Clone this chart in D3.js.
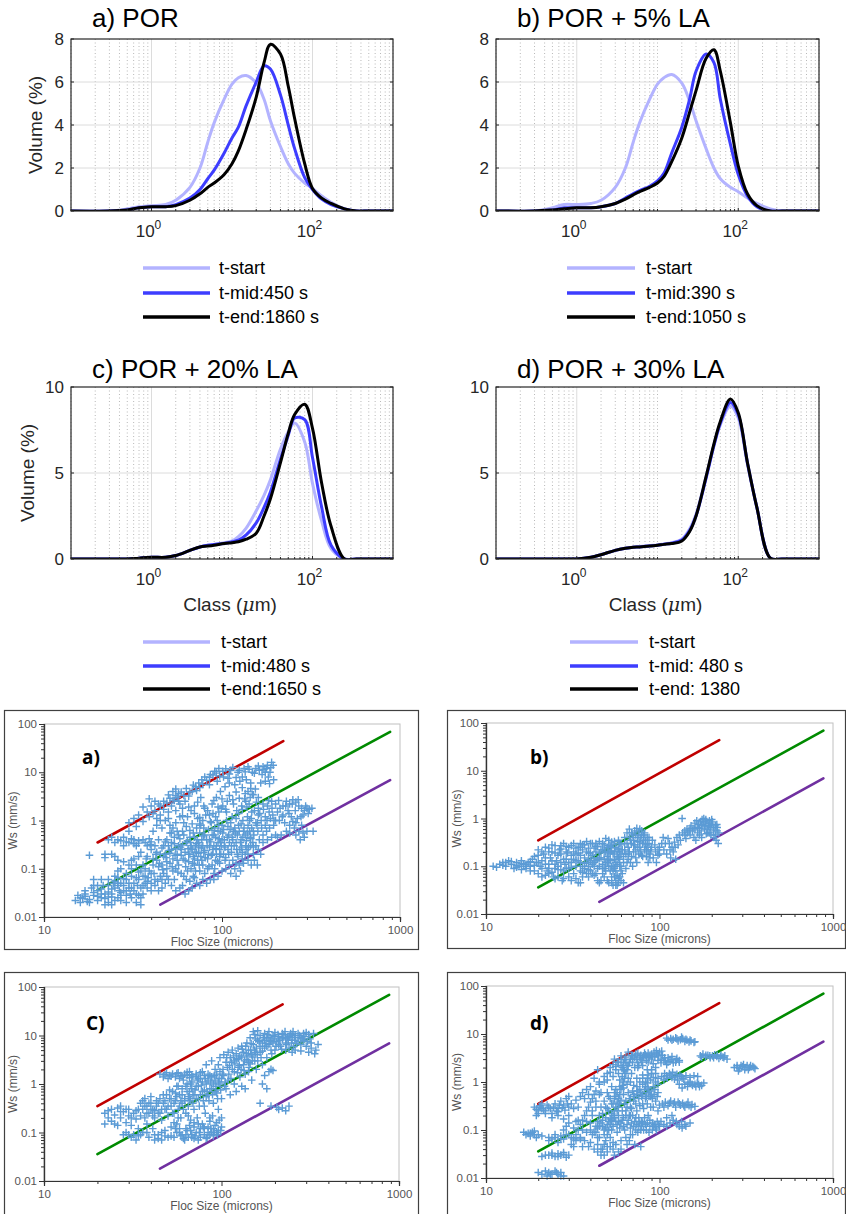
<!DOCTYPE html>
<html><head><meta charset="utf-8">
<script src="https://cdn.jsdelivr.net/npm/d3@7/dist/d3.min.js"></script>
<style>body{margin:0;background:#fff}svg{display:block}</style>
</head><body>
<svg id="fig" width="846" height="1214"></svg>
<script>
// ---------------- DATA ----------------
// Particle size classes (µm) for the volume distributions
const classes = [0.1,0.3,0.5,0.7,1,1.5,2,3,4,5,6,8,10,12,15,20,25,30,40,50,60,80,100,130,170,250,350,500,1000];

const psdTitles = ["a) POR", "b) POR + 5% LA", "c) POR + 20% LA", "d) POR + 30% LA"];
const seriesNames = ["t-start", "t-mid", "t-end"];
const legendA = ["t-start", "t-mid:450 s", "t-end:1860 s"];
const legendB = ["t-start", "t-mid:390 s", "t-end:1050 s"];
const legendC = ["t-start", "t-mid:480 s", "t-end:1650 s"];
const legendD = ["t-start", "t-mid: 480 s", "t-end: 1380"];

// Volume (%) per class
const aStart = [0,0,0.1,0.2,0.25,0.3,0.5,1.1,2.0,3.2,4.1,5.2,5.9,6.2,6.3,5.95,5.2,4.2,3.0,2.2,1.75,1.3,1.05,0.7,0.4,0.1,0,0,0];
const aMid   = [0,0,0.05,0.15,0.2,0.2,0.3,0.6,1.0,1.5,1.9,2.7,3.4,3.9,4.9,6.0,6.75,6.6,5.4,4.0,2.9,1.55,1.0,0.55,0.3,0.1,0,0,0];
const aEnd   = [0,0,0.05,0.15,0.2,0.2,0.25,0.5,0.8,1.1,1.3,1.7,2.2,2.8,3.8,5.3,6.9,7.75,7.3,5.8,4.3,2.2,1.05,0.6,0.35,0.1,0,0,0];

const bStart = [0,0,0.15,0.3,0.3,0.35,0.5,1.1,2.0,3.2,4.1,5.2,5.9,6.2,6.35,5.95,5.1,4.2,2.9,2.0,1.5,1.1,0.9,0.6,0.35,0.1,0,0,0];
const bMid   = [0,0,0.05,0.15,0.15,0.15,0.2,0.35,0.6,0.8,0.95,1.15,1.4,1.75,2.7,3.9,5.2,6.5,7.3,6.9,5.2,3.1,1.7,0.7,0.2,0,0,0,0];
const bEnd   = [0,0,0.05,0.1,0.15,0.15,0.2,0.35,0.55,0.75,0.9,1.1,1.3,1.6,2.3,3.4,4.6,5.6,7.1,7.5,6.5,4.1,2.1,0.8,0.25,0,0,0,0];

const cStart = [0,0,0,0.05,0.1,0.1,0.2,0.5,0.7,0.8,0.85,0.95,1.05,1.3,1.8,2.8,3.7,4.6,6.4,7.4,7.9,6.8,4.4,2.2,0.6,0,0,0,0];
const cMid   = [0,0,0,0.05,0.1,0.1,0.2,0.5,0.7,0.8,0.85,0.9,1.0,1.1,1.4,2.1,3.0,3.9,5.8,7.2,8.2,8.1,5.9,3.0,0.8,0,0,0,0];
const cEnd   = [0,0,0,0.05,0.1,0.1,0.2,0.5,0.7,0.75,0.8,0.9,0.95,1.0,1.15,1.5,2.5,3.5,5.6,7.3,8.4,9.0,7.6,4.4,1.9,0,0,0,0];

const dStart = [0,0,0,0,0,0.1,0.25,0.5,0.62,0.68,0.72,0.78,0.82,0.88,0.95,1.15,1.75,2.6,4.8,6.6,7.8,8.9,8.2,5.5,3.0,0.05,0,0,0];
const dMid   = [0,0,0,0,0,0.1,0.25,0.5,0.62,0.68,0.7,0.76,0.8,0.86,0.92,1.1,1.65,2.5,4.7,6.6,7.9,9.1,8.4,5.6,3.0,0.05,0,0,0];
const dEnd   = [0,0,0,0,0,0.1,0.25,0.5,0.62,0.68,0.7,0.75,0.8,0.85,0.9,1.05,1.6,2.5,4.8,6.7,8.0,9.3,8.5,5.6,3.0,0.05,0,0,0];

const yTicksTop = [0,2,4,6,8];
const yTicksBottom = [0,5,10];
const xTickLabelsTop = [1, 100];

// Settling velocity vs floc size
const scatterYTicks = [0.01,0.1,1,10,100];
const scatterXTicks = [10,100,1000];
const scatterLabels = ["a)", "b)", "C)", "d)"];
const lineUpper = [[20,0.35],[221,44]];
const lineMid   = [[20,0.036],[880,69]];
const lineLower = [[45,0.018],[880,6.9]];

const scatterA = [
[15,0.022],[16,0.025],[16.5,0.024],[17,0.03],[17.5,0.021],[15.5,0.028],
[18,0.02],[19,0.028],[20,0.035],[21,0.025],[22,0.018],[20,0.045],[19,0.06],[21,0.06],[18,0.19],[22,0.17],[20,0.022],[22,0.03],[18.5,0.04],[21.5,0.045],
[23,0.02],[24,0.03],[25,0.04],[26,0.025],[27,0.05],[23,0.06],[25,0.07],[24,0.018],[28,0.035],[26,0.09],[23,0.4],[25,0.35],[27,0.38],[28,0.3],[24,0.2],[26,0.15],[28,0.045],[27,0.022],[24.5,0.05],[26.5,0.035],
[29,0.02],[31,0.025],[33,0.02],[35,0.018],[30,0.04],[32,0.05],[34,0.06],[29,0.08],[31,0.1],[33,0.12],[35,0.09],[30,0.35],[32,0.4],[34,0.38],[33,0.3],[30,0.9],[32,1.1],[34,1.3],[31,0.15],[29,0.06],[35,0.04],[30.5,0.03],[33.5,0.045],
[36,0.03],[38,0.04],[40,0.05],[42,0.045],[44,0.035],[37,0.07],[39,0.09],[41,0.12],[43,0.15],[45,0.2],[36,0.12],[38,0.18],[40,0.25],[42,0.3],[44,0.4],[37,0.35],[39,0.42],[41,0.6],[43,0.8],[45,1.0],[38,1.5],[40,2.0],[42,2.5],[44,2.2],[36,1.9],[39,2.8],[41,1.4],[43,1.1],[45,0.07],[40,0.08],[37,0.05],[42,0.06],
[46,0.04],[48,0.05],[50,0.06],[52,0.045],[55,0.035],[58,0.04],[47,0.08],[49,0.1],[51,0.13],[53,0.16],[56,0.2],[59,0.25],[46,0.12],[48,0.2],[50,0.3],[52,0.35],[54,0.45],[57,0.5],[60,0.6],[47,0.3],[49,0.4],[51,0.55],[53,0.7],[55,0.9],[58,1.2],[46,0.7],[48,1.0],[50,1.5],[52,2.0],[54,2.6],[56,3.0],[58,2.2],[60,1.8],[47,2.5],[50,3.4],[53,4.0],[55,4.5],[57,3.6],[59,0.08],[55,0.1],[52,0.25],[56,0.15],[49,0.07],[54,0.06],[57,0.3],[51,0.8],
[62,0.03],[65,0.035],[68,0.04],[72,0.05],[75,0.045],[78,0.06],[61,0.07],[64,0.09],[67,0.1],[70,0.12],[73,0.15],[76,0.18],[79,0.22],[62,0.15],[65,0.2],[68,0.25],[71,0.3],[74,0.35],[77,0.4],[80,0.5],[63,0.35],[66,0.45],[69,0.55],[72,0.7],[75,0.85],[78,1.0],[61,0.9],[64,1.2],[67,1.6],[70,2.0],[73,2.4],[76,3.0],[79,2.0],[62,2.5],[65,3.2],[68,4.0],[71,5.0],[74,6.0],[77,7.0],[80,8.0],[66,0.2],[70,0.16],[74,0.28],[78,0.12],[63,0.06],[69,0.07],[75,0.09],[67,0.3],[72,0.22],
[82,0.05],[86,0.06],[90,0.08],[95,0.07],[100,0.09],[105,0.1],[83,0.1],[88,0.12],[92,0.15],[97,0.18],[102,0.2],[108,0.25],[84,0.2],[89,0.25],[93,0.3],[98,0.35],[103,0.4],[109,0.5],[85,0.4],[90,0.5],[95,0.6],[100,0.8],[106,1.0],[87,0.9],[92,1.2],[96,1.5],[101,2.0],[107,2.5],[83,1.6],[88,2.2],[93,3.0],[98,4.0],[104,5.0],[110,6.0],[86,9.0],[91,10.5],[96,12.0],[102,8.0],[108,7.5],[85,5.5],[94,6.5],[99,0.3],[104,0.15],[91,0.1],[97,0.13],
[112,0.08],[118,0.1],[125,0.12],[132,0.13],[140,0.15],[115,0.15],[122,0.2],[130,0.22],[138,0.25],[145,0.3],[113,0.3],[120,0.35],[128,0.4],[135,0.5],[143,0.6],[116,0.6],[124,0.8],[131,1.0],[139,1.2],[147,1.5],[114,1.2],[121,1.6],[129,2.0],[136,2.5],[144,3.0],[118,5.5],[126,6.5],[133,12.0],[140,13.0],[148,10.0],[123,10.0],[130,8.0],[137,7.0],[145,6.0],[112,11.0],[150,0.2],[146,0.12],[120,0.07],[127,0.09],
[152,0.15],[158,0.12],[165,0.2],[155,0.3],[162,0.4],[170,0.5],[178,0.6],[185,0.7],[195,0.8],[157,0.8],[166,1.0],[175,1.2],[184,1.5],[193,1.3],[160,1.8],[170,2.2],[180,2.0],[190,2.5],[200,2.2],[155,12.0],[162,11.0],[170,13.0],[178,12.0],[186,10.0],[194,14.0],[190,16.0],[165,6.0],[175,6.5],[185,5.8],[195,7.0],[160,3.0],[168,9.0],[182,8.0],
[205,1.5],[212,1.8],[220,2.0],[230,2.5],[240,2.2],[250,2.7],[260,2.4],[270,2.0],[280,1.8],[290,1.6],[300,1.8],[310,1.7],[325,0.6],[210,1.0],[225,0.9],[240,0.8],[255,0.7],[270,0.6],[285,0.55],[300,0.6],[215,0.5],[230,0.6],[260,0.5],[275,0.4],[205,0.45],[220,1.3],[245,1.2],[265,1.1],[285,1.3],[250,0.95],[235,1.6],
[41,0.16],[43,0.22],[44,0.11],[46,0.27],[47,0.18],[48,0.36],[49,0.14],[51,0.21],[52,0.55],[53,0.09],[54,0.33],[55,0.26],[56,0.6],[57,0.12],[58,0.42],[59,0.19],[60,0.31],[61,0.5],[62,0.22],[63,0.75],[64,0.38],[65,0.14],[66,0.62],[67,0.27],[68,0.85],[69,0.18],[70,0.45],[71,0.09],[72,0.33],[73,1.1],[74,0.21],[75,0.55],[76,0.8],[77,0.15],[78,0.3],[79,0.7],[80,0.24],[81,1.3],[82,0.4],[83,0.16],[84,0.65],[85,0.28],[86,0.95],[87,0.19],[88,0.5],[89,1.4],[90,0.3],[91,0.7],[92,0.45],[93,0.2],[94,1.0],[95,0.35],[96,0.8],[97,0.25],[98,0.6],[99,1.8],[100,0.4],[102,0.65],[104,0.28],[106,1.5],[108,0.75],[110,0.35],[112,0.9],[114,0.45],[116,2.2],[118,0.7],[120,1.1],[122,0.5],[124,1.4],[126,0.25],[128,0.85],[130,1.7],[132,0.6],[134,2.8],[136,0.3],[138,1.9],[140,0.8],[142,2.2],[144,0.45],[146,1.1],[148,3.5],[150,0.6],[152,1.6],[154,4.5],[156,2.4],[158,0.9],[160,1.3],
[30,0.6],[33,0.75],[36,0.95],[39,1.2],[42,1.6],[45,2.0],[47,1.7],[49,2.3],[51,2.9],[53,2.6],[55,3.3],[57,2.5],[59,3.9],[61,3.3],[63,4.6],[66,3.9],[69,5.4],[72,4.2],[75,4.8],[78,5.6],[82,6.8],[85,7.9],[89,8.7],[93,9.6],[97,8.4],[101,10.5],[105,11.8],[110,9.2],[115,12.5],[120,7.8],[125,11.0],[135,10.2],[142,11.5],[152,9.5],[160,13.5],[172,11.5],[180,14.0],[188,12.5],[175,10.0],
[16,0.02],[17,0.027],[18,0.023],[19,0.032],[20,0.027],[21,0.038],[22,0.024],[23,0.033],[24,0.026],[25,0.055],[26,0.045],[27,0.032],[28,0.062],[29,0.028],[30,0.05],[32,0.035],[34,0.028],[36,0.045],[38,0.055],[40,0.035],[31,0.07],[34,0.085],[37,0.1],[33,0.065],[26,0.065],[23,0.045],[19,0.045],[17,0.035],
[26,0.4],[29,0.36],[31,0.42],[34,0.34],[36,0.4],[38,0.3],[40,0.36],[28,0.45],[32,0.33],[24,0.45],[22,0.2],[25,0.18],
[60,0.045],[66,0.055],[70,0.065],[80,0.08],[90,0.06],[110,0.12],[120,0.13],[130,0.16],[140,0.2],[150,0.28],[160,0.25],[170,0.35],[180,0.4],[190,0.45],[200,0.5],
[200,1.0],[208,2.6],[218,1.2],[228,2.0],[238,1.4],[248,2.2],[258,1.6],[268,2.7],[278,1.2],[295,2.0],[305,1.4],[320,1.8],[240,0.55],[260,0.9],[280,0.8],[290,0.45],
[44.5,0.13],[46.5,0.095],[48.5,0.17],[50.5,0.24],[52.5,0.11],[54.5,0.19],[56.5,0.085],[58.5,0.28],[60.5,0.16],[62.5,0.11],[64.5,0.26],[66.5,0.35],[68.5,0.13],[70.5,0.22],[72.5,0.4],[74.5,0.12],[76.5,0.27],[78.5,0.48],[80.5,0.17],[82.5,0.3],[84.5,0.11],[86.5,0.36],[88.5,0.2],[90.5,0.62],[92.5,0.26],[94.5,0.14],[96.5,0.42],[98.5,0.2],[101,0.55],[103,0.3],[105,0.17],[107,0.45],[109,0.2],[111,0.65],[113,0.22],[115,0.4],[117,0.3],[119,0.55],[121,0.25],[123,0.18],[125,0.6],[127,0.35],[129,0.28],[131,0.45],[133,0.7],[135,0.2],[137,0.38],[139,0.55],[141,0.28],[143,1.0],[145,0.42],[147,0.7],[149,0.35],[151,0.5],[155,0.9],[159,0.6],[163,1.4],[167,0.7],[171,1.7],[175,0.8],[179,1.0],[183,2.6],[187,1.1],[191,1.8],[196,1.0],
[45,1.3],[50,1.1],[55,1.6],[60,1.25],[65,1.9],[70,1.4],[75,1.15],[80,1.8],[85,1.3],[90,2.6],[95,1.9],[100,2.8],[105,1.7],[110,3.3],[115,2.7],[120,3.9],[125,2.9],[130,4.8],[135,3.6],[140,4.0],[145,4.6],[150,3.4],
[35,0.22],[37.5,0.16],[39.5,0.32],[42.5,0.2],[34,0.18],[32,0.16],[30,0.12],[28,0.14],[27,0.1],[36,0.07],[38.5,0.065],[41.5,0.08],[43.5,0.055],[46,0.06],[21,0.03],[23,0.026],[25,0.022],[27,0.028],[29,0.035],[31,0.04],[33,0.03],[35,0.025],[24,0.038],[26,0.05]
];

const scatterB = [
[11,0.1],[12,0.11],[12.5,0.12],[13,0.1],[13.5,0.13],[14,0.11],[14.5,0.09],[15,0.12],[15.5,0.1],[16,0.13],[16.5,0.11],[17,0.09],[17.5,0.12],[18,0.1],[18.5,0.14],[19,0.08],[19.5,0.12],[20,0.22],[20,0.07],[19,0.16],[18,0.08],[16,0.085],[11.5,0.095],[13,0.12],[15,0.105],[17,0.11],
[20.5,0.1],[21,0.13],[21.5,0.18],[22,0.25],[22.5,0.08],[23,0.11],[23.5,0.15],[24,0.2],[24.5,0.06],[25,0.09],[25.5,0.13],[26,0.17],[26.5,0.22],[27,0.27],[27.5,0.05],[28,0.08],[28.5,0.11],[29,0.14],[29.5,0.19],[30,0.25],[21,0.06],[23,0.07],[26,0.06],[28,0.3],[24,0.28],[22,0.15],[25,0.19],[27,0.12],[29,0.09],[30,0.06],[21,0.2],[23,0.24],[25,0.27],[27,0.18],[29,0.26],
[31,0.05],[32,0.07],[33,0.1],[34,0.13],[35,0.17],[36,0.22],[37,0.28],[38,0.33],[39,0.06],[40,0.08],[41,0.11],[42,0.15],[43,0.2],[44,0.26],[45,0.33],[31,0.12],[33,0.18],[35,0.25],[37,0.09],[39,0.14],[41,0.3],[43,0.07],[45,0.1],[32,0.3],[34,0.045],[36,0.06],[38,0.12],[40,0.19],[42,0.24],[44,0.05],[32,0.2],[34,0.25],[36,0.1],[38,0.07],[40,0.3],[42,0.1],[44,0.14],
[46,0.05],[47,0.07],[48,0.09],[49,0.12],[50,0.16],[51,0.2],[52,0.26],[53,0.32],[54,0.04],[55,0.06],[56,0.08],[57,0.11],[58,0.15],[59,0.2],[60,0.28],[47,0.3],[49,0.38],[51,0.35],[53,0.1],[55,0.14],[57,0.04],[59,0.06],[48,0.2],[50,0.05],[52,0.13],[54,0.18],[56,0.25],[58,0.35],[60,0.1],[46,0.15],[48,0.14],[50,0.25],[52,0.08],[54,0.28],[56,0.12],[58,0.045],
[62,0.12],[64,0.18],[66,0.25],[68,0.35],[70,0.45],[72,0.55],[74,0.62],[76,0.5],[78,0.4],[80,0.3],[82,0.22],[84,0.16],[86,0.12],[88,0.18],[90,0.25],[63,0.4],[65,0.5],[67,0.6],[69,0.3],[71,0.2],[73,0.15],[75,0.25],[77,0.32],[79,0.55],[81,0.45],[83,0.35],[85,0.28],[87,0.4],[61,0.07],[64,0.09],[66,0.14],[70,0.1],[74,0.12],[78,0.2],[82,0.5],[86,0.2],
[92,0.15],[95,0.2],[98,0.17],[100,0.25],[103,0.3],[106,0.22],[110,0.18],[114,0.3],[118,0.25],[122,0.32],[126,0.4],[130,0.45],[105,0.4],[112,0.38],[120,0.2],[128,0.28],[96,0.12],[116,0.15],[135,1.0],[124,0.14],
[132,0.35],[136,0.5],[140,0.45],[144,0.6],[148,0.55],[152,0.7],[156,0.62],[160,0.8],[164,0.9],[168,0.75],[172,0.85],[176,0.95],[180,1.0],[184,0.88],[188,0.8],[192,0.7],[196,0.65],[200,0.75],[205,0.6],[210,0.7],[215,0.55],[220,0.5],[142,0.38],[150,0.45],[158,0.4],[166,0.5],[174,0.55],[182,0.6],[190,0.5],[198,0.45],[206,0.4],[212,0.35],[218,0.3],[162,0.35],[178,0.7],[194,0.9],[170,0.62],[186,0.48],[202,0.85],[214,0.75],
[12.5,0.105],[14,0.125],[15,0.095],[16,0.115],[17,0.1],[18,0.125],[19,0.105],[20,0.12],[21,0.09],[22,0.11],[23,0.09],[24,0.13],[25,0.11],[26,0.1],[27,0.085],[28,0.14],[29,0.2],[30,0.12],[31,0.17],[32,0.14],[33,0.24],[34,0.19],[35,0.12],[36,0.28],[37,0.15],[38,0.2],[39,0.1],[40,0.13],[41,0.17],[42,0.12],[43,0.26],[44,0.09],[45,0.15],[46,0.22],[47,0.11],[48,0.28],[49,0.08],[50,0.12],[51,0.1],[52,0.19],[53,0.06],[54,0.1],[55,0.2],[56,0.05],[57,0.16],[58,0.23],[59,0.1],[60,0.18],
[22,0.065],[24,0.075],[26,0.085],[28,0.055],[30,0.09],[33,0.055],[36,0.075],[39,0.085],[42,0.065],[45,0.045],[48,0.06],[51,0.045],[54,0.08],[57,0.065],[60,0.05],[25,0.055],[35,0.045],[20,0.17],[23,0.2],[27,0.23],[31,0.27],[35,0.3],[39,0.24],[43,0.3],[47,0.22],[51,0.27],[55,0.33],[59,0.3],
[63,0.22],[65,0.3],[67,0.4],[69,0.5],[71,0.35],[73,0.45],[75,0.4],[77,0.6],[79,0.45],[81,0.35],[83,0.28],[85,0.4],[87,0.3],[89,0.22],[91,0.35],[66,0.18],[72,0.28],[76,0.18],[80,0.16],[84,0.22],[88,0.15],[62,0.16],[68,0.12],[94,0.28],[100,0.18],[108,0.3],[115,0.22],[123,0.25],[98,0.22],
[145,0.5],[155,0.55],[165,0.65],[175,0.75],[185,0.7],[195,0.8],[205,0.55],[215,0.65],[160,0.6],[170,0.45],[180,0.85],[190,0.6],[200,0.95],[210,0.45],[140,0.55],[150,0.62],[195,0.5],[185,0.95],[175,0.4],
[31,0.095],[33,0.13],[35,0.08],[37,0.115],[39,0.19],[41,0.07],[43,0.13],[45,0.19],[47,0.09],[49,0.2],[51,0.14],[53,0.21],[55,0.09],[57,0.2],[59,0.14],[61,0.22],[63,0.3],[65,0.12],[67,0.2],[69,0.16],[71,0.28],[73,0.22],[75,0.33],[77,0.25],[79,0.17],[62,0.045],[58,0.055],[56,0.04],[53,0.045],[60,0.08]
];

const scatterC = [
[22,0.25],[22,0.15],[23,0.2],[24,0.3],[24,0.17],[25,0.23],[26,0.32],[26,0.14],[27,0.2],[27,0.35],[28,0.27],[28,0.09],[29,0.1],[29,0.16],[30,0.22],[30,0.3],[31,0.08],[31,0.14],[32,0.09],[32,0.25],[33,0.07],[33,0.19],[34,0.12],[34,0.3],[35,0.4],[35,0.09],
[36,0.45],[36,0.3],[37,0.2],[37,0.5],[38,0.35],[38,0.15],[39,0.25],[39,0.08],[40,0.4],[40,0.55],[41,0.3],[41,0.12],[42,0.2],[42,0.07],[43,0.45],[43,0.35],[44,0.25],[44,0.09],[45,0.5],[45,1.6],[46,0.18],[46,0.07],[47,0.4],[47,1.4],[48,0.3],[48,0.11],[49,0.6],[49,1.7],[50,0.22],[50,0.08],
[51,0.5],[51,1.5],[52,0.35],[52,0.13],[53,0.7],[53,1.6],[54,0.25],[54,0.08],[55,0.45],[55,1.4],[56,0.9],[56,0.15],[57,0.3],[57,1.7],[58,0.6],[58,0.1],[59,0.2],[59,1.5],[60,0.8],[60,0.4],[61,1.2],[61,0.075],[62,0.5],[62,1.6],[63,0.25],[63,0.12],[64,1.0],[64,1.5],[65,0.35],[65,0.08],[66,0.7],[66,1.8],[67,0.18],[67,0.45],[68,1.1],[68,0.09],[69,0.6],[69,1.4],[70,0.3],[70,0.13],
[72,0.9],[72,1.6],[74,0.5],[74,0.15],[76,1.3],[76,0.08],[78,0.7],[78,1.8],[80,0.35],[80,0.12],[82,1.0],[82,2.5],[84,0.6],[84,0.1],[86,1.5],[86,0.2],[88,0.8],[88,3.0],[90,0.4],[90,0.12],[92,1.2],[92,2.0],[94,0.65],[94,0.1],[96,2.5],[96,0.3],[98,1.0],[98,3.5],[100,0.5],[100,0.2],
[103,4.0],[103,1.5],[106,0.8],[106,2.8],[109,4.5],[109,1.2],[112,3.5],[112,0.6],[115,2.0],[115,5.0],[118,1.0],[118,3.0],[121,4.2],[121,0.7],[124,2.2],[124,5.5],[127,1.4],[127,3.8],[130,0.9],[130,6.0],[133,2.5],[133,4.5],[136,1.6],[136,0.8],[139,3.2],[139,7.0],[142,5.0],[142,1.8],[145,2.6],[145,9.0],[148,4.0],[148,1.2],[151,6.5],[151,12.0],[154,3.0],[154,10.5],[157,5.5],[157,2.0],[160,8.0],[160,12.5],
[165,4.5],[165,10.0],[170,7.0],[170,2.5],[175,11.0],[175,5.5],[180,9.0],[180,3.5],[185,6.5],[185,12.0],[190,8.0],[190,2.0],[195,10.0],[200,5.0],[200,11.5],[205,7.5],[210,9.5],[215,6.0],[220,8.5],[225,10.5],[230,7.0],[235,9.0],[240,5.5],[245,11.0],[250,8.0],[255,6.0],[260,10.0],[270,7.5],[280,9.0],[290,11.0],[300,6.0],[310,4.5],[320,5.5],[335,4.2],[350,6.5],[300,11.5],[280,4.8],[260,5.0],[210,0.3],[220,0.32],[230,0.28],[240,0.35],[205,0.33],[180,0.8],[170,1.0],[190,0.35],[165,0.4],[175,1.5],[185,1.8],[195,1.9],
[38,0.25],[40,0.3],[42,0.28],[44,0.4],[46,0.3],[48,0.45],[50,0.35],[52,0.5],[54,0.4],[56,0.55],[58,0.35],[60,0.6],[62,0.45],[64,0.7],[66,0.5],[68,0.8],[70,0.6],[72,0.5],[74,0.9],[76,0.6],[78,1.1],[80,0.75],[82,0.55],[84,1.2],[86,0.8],[88,1.4],[90,1.0],[92,0.7],[94,1.6],[96,1.1],[98,1.8],[100,1.3],[102,2.0],[104,0.9],[108,2.2],[110,1.6],[114,2.8],[118,1.8],[122,3.2],[126,2.4],[130,3.6],[134,1.9],[138,4.2],[142,2.8],[146,5.0],[150,3.6],[155,4.4],[160,3.0],[165,6.0],[170,4.8],[175,8.0],[180,6.0],[185,9.0],[190,5.0],[195,7.0],[200,8.5],[210,6.5],[220,11.0],[230,8.5],[240,9.5],[250,10.5],[260,8.0],[270,11.0],[280,6.5],[290,8.0],[310,10.5],[320,7.0],[340,5.0],[330,11.0],[250,4.5],[230,5.0],
[52,0.085],[56,0.1],[60,0.09],[64,0.11],[68,0.08],[72,0.1],[76,0.12],[80,0.09],[84,0.13],[88,0.1],[92,0.14],[96,0.11],[58,0.12],[66,0.14],[74,0.07],[82,0.075],[90,0.085],[62,0.07],[70,0.16],[78,0.15],[86,0.17],[94,0.16],[100,0.13],
[48,1.55],[52,1.45],[56,1.65],[60,1.45],[64,1.75],[68,1.55],[72,1.45],[76,1.7],[80,1.5],[84,1.6],[88,1.4],[50,1.3],[58,1.3],[66,1.35],[74,1.3],
[23,0.28],[25,0.15],[27,0.27],[29,0.3],[31,0.2],[33,0.28],[35,0.22],[37,0.35],[39,0.4],[41,0.22],[30,0.09],[34,0.085],[38,0.1],[42,0.09],[46,0.1],[44,0.075],[48,0.085],[36,0.1],
[45,0.25],[47,0.6],[49,0.3],[51,0.75],[53,0.25],[55,0.65],[57,0.9],[59,0.45],[61,0.3],[63,0.9],[65,0.55],[67,1.0],[69,0.4],[71,0.75],[73,1.2],[75,0.35],[77,0.95],[79,0.45],[81,1.3],[83,0.7],[85,0.45],[87,1.1],[89,0.6],[91,1.5],[93,0.9],[95,0.5],[97,1.3],[99,0.75],[101,1.6],[105,1.1],[107,3.5],[111,2.4],[113,1.3],[117,3.8],[119,2.6],[123,1.7],[125,3.4],[129,2.0],[131,5.2],[135,3.0],[137,6.0],[141,3.8],[143,2.2],[147,6.8],[149,3.0],[153,5.0],[156,8.5],[159,4.0],[163,7.5],[167,3.5],[172,9.0],[178,6.8],[182,10.5],[188,7.5],[192,4.2],[198,9.5],[203,6.0],[208,10.5],[213,8.0],[218,5.2],[222,9.0],[228,12.0],[233,6.5],[238,8.0],[243,9.8],[248,7.0],[253,12.0],[258,9.0],[265,6.8],[275,10.0],[285,8.5],[295,9.5],[305,7.5],[315,8.5],
[55,0.12],[59,0.085],[63,0.09],[67,0.11],[71,0.085],[75,0.1],[79,0.13],[83,0.08],[87,0.12],[91,0.1],[95,0.09],[99,0.11],[70,0.075],[86,0.09],[54,0.16],[57,0.2],[65,0.22],[73,0.2],[81,0.25],[89,0.22],[97,0.18]
];

const scatterD = [
[16.5,0.09],[17,0.08],[17.5,0.085],[18,0.075],[18.5,0.09],[19,0.08],[19.5,0.07],[19,0.3],[20,0.25],[20.5,0.32],[21,0.28],[19.5,0.2],[21,0.35],[20,0.013],[21,0.012],[22,0.014],[22,0.03],[21,0.028],[20,0.22],
[22.5,0.011],[23,0.013],[24,0.012],[25,0.014],[26,0.012],[27,0.013],[28,0.011],[23,0.03],[24,0.033],[25,0.028],[26,0.032],[27,0.03],[28,0.034],[29,0.027],[30,0.03],[23,0.07],[24,0.065],[25,0.08],[26,0.055],[27,0.075],[28,0.1],[29,0.12],[30,0.14],[22,0.25],[23,0.3],[24,0.22],[25,0.35],[26,0.28],[27,0.4],[28,0.33],[29,0.45],[30,0.3],[24,0.18],[26,0.2],[28,0.17],[30,0.5],
[31,0.05],[32,0.065],[33,0.08],[34,0.1],[35,0.13],[36,0.16],[37,0.2],[38,0.25],[39,0.3],[40,0.38],[41,0.45],[42,0.55],[43,0.65],[44,0.05],[45,0.07],[31,0.35],[32,0.28],[33,0.42],[34,0.3],[35,0.5],[36,0.6],[37,0.45],[38,0.7],[39,0.55],[40,0.1],[41,0.08],[42,0.04],[43,0.12],[44,0.15],[45,0.2],[35,0.07],[37,0.06],[39,0.045],[41,0.2],[43,0.3],[45,0.9],[42,1.2],[44,1.8],[40,0.8],[38,0.15],
[46,0.03],[47,0.04],[48,0.05],[49,0.06],[50,0.08],[51,0.1],[52,0.13],[53,0.16],[54,0.2],[55,0.25],[56,0.3],[57,0.38],[58,0.45],[59,0.55],[60,0.7],[61,0.85],[62,1.0],[63,1.2],[64,1.5],[65,1.8],[47,0.12],[49,0.18],[51,0.25],[53,0.35],[55,0.45],[57,0.6],[59,0.8],[61,1.3],[63,1.7],[65,2.2],[48,1.0],[50,1.5],[52,2.0],[54,2.3],[56,1.8],[58,2.6],[60,3.0],[62,2.5],[64,3.3],[46,0.6],[50,0.035],[55,0.03],[60,0.04],[65,0.05],[52,0.07],[57,0.09],[62,0.12],[64,0.2],[58,0.15],[54,0.055],
[67,0.06],[70,0.08],[73,0.1],[76,0.12],[79,0.15],[82,0.18],[85,0.14],[88,0.12],[91,0.1],[94,0.13],[97,0.15],[100,0.12],[68,0.3],[71,0.4],[74,0.55],[77,0.7],[80,0.9],[83,0.8],[86,0.6],[89,0.5],[92,0.8],[95,1.0],[98,0.9],[66,1.2],[69,1.5],[72,2.0],[75,2.5],[78,3.0],[81,3.5],[84,2.8],[87,3.2],[90,3.8],[93,4.2],[96,4.5],[99,3.5],[70,3.6],[75,4.0],[80,2.2],[85,1.8],[90,1.5],[68,0.2],[74,0.25],[80,0.35],[86,0.2],[92,0.3],[98,0.25],[72,0.05],[78,0.045],
[102,0.15],[106,0.13],[110,0.12],[115,0.14],[120,0.16],[125,0.15],[130,0.12],[135,0.11],[140,0.13],[104,0.35],[108,0.38],[112,0.32],[116,0.4],[120,0.35],[124,0.3],[128,0.38],[132,0.33],[136,0.36],[140,0.3],[144,0.34],[148,0.32],[152,0.3],[103,1.3],[107,1.5],[111,1.2],[115,1.4],[119,1.6],[123,1.3],[127,1.1],[131,1.4],[135,1.2],[102,2.5],[106,2.8],[110,2.3],[115,2.7],[120,2.5],[125,2.9],[130,2.6],[112,7.5],[116,8.0],[120,7.8],[124,8.3],[128,7.2],[132,7.6],[136,8.0],[140,7.0],[144,7.4],[148,6.8],[152,7.2],[158,6.7],
[140,0.9],[145,0.8],[150,1.0],[155,0.85],[160,0.9],[165,0.95],[170,0.8],[130,0.9],[135,0.75],[172,3.5],[178,3.8],[184,3.3],[190,3.6],[196,3.2],[202,3.5],[208,3.7],[214,3.4],[220,3.1],[226,3.6],[232,3.3],[238,3.5],[245,3.0],[270,2.0],[280,2.2],[290,1.9],[300,2.1],[310,1.8],[320,2.2],[330,2.0],[345,2.1],[355,1.9],[285,1.7],[305,2.3],[325,1.8],
[42,0.09],[44,0.11],[46,0.14],[48,0.1],[50,0.13],[52,0.17],[54,0.12],[56,0.15],[58,0.2],[60,0.14],[62,0.18],[64,0.25],[66,0.16],[68,0.11],[70,0.2],[72,0.15],[74,0.13],[76,0.18],[78,0.1],[80,0.14],[84,0.1],[88,0.16],[92,0.12],[96,0.1],[46,0.3],[48,0.4],[50,0.28],[52,0.45],[54,0.35],[56,0.5],[58,0.3],[60,0.42],[62,0.55],[64,0.4],[66,0.6],[68,0.45],[70,0.65],[72,0.5],[74,0.8],[76,0.45],[78,0.6],[80,0.55],[82,0.7],[84,0.5],[86,0.75],[88,0.65],[90,0.55],[94,0.7],[98,0.6],[44,0.07],[48,0.08],[52,0.045],[56,0.05],[60,0.06],[64,0.07],[68,0.08],[46,0.04],[50,0.045],[54,0.04],[58,0.035],
[45,1.0],[48,1.3],[50,1.1],[52,1.6],[54,1.3],[56,2.1],[58,1.5],[60,2.2],[62,1.8],[64,2.6],[66,2.2],[68,3.0],[70,2.6],[72,3.3],[74,3.0],[76,2.2],[78,3.6],[80,3.2],[82,4.0],[84,3.4],[86,2.6],[88,3.6],[90,3.0],[92,2.4],[94,3.3],[96,4.0],[98,2.8],[100,4.2],[102,3.0],[104,3.6],[108,2.8],[112,3.2],[118,2.9],[124,2.6],[130,2.8],[55,3.0],[60,3.5],[66,4.2],[70,3.0],[75,2.0],[80,1.4],[85,1.2],[90,1.8],[95,2.0],[85,0.95],
[110,1.35],[118,1.25],[126,1.45],[134,1.3],[142,1.35],[150,1.25],[158,1.35],[166,1.3],[106,1.1],[114,1.5],[122,1.15],[138,1.15],[146,0.95],[154,0.9],[162,0.8],[168,0.9],[175,0.85],[180,0.95],
[100,0.33],[106,0.3],[114,0.36],[122,0.38],[130,0.35],[138,0.32],[146,0.38],[154,0.34],[160,0.31],[110,0.18],[118,0.2],[126,0.13],[134,0.15],[142,0.12],[150,0.14],
[110,8.2],[118,7.4],[126,7.9],[134,8.6],[142,7.8],[150,7.5],[160,6.9],
[19.5,0.27],[20.5,0.3],[21.5,0.26],[22.5,0.33],[23.5,0.28],[24.5,0.3],[25.5,0.25],[26.5,0.33],[27.5,0.29],[28.5,0.26],[29.5,0.35],[22,0.22],[26,0.24],[30,0.2],[18,0.085],[19,0.095],[20,0.08],[21,0.075],[23,0.06],[25,0.07],[27,0.065],[29,0.08],[31,0.07],[33,0.06],[35,0.065],
[24,0.03],[26,0.028],[28,0.031],[23.5,0.012],[25.5,0.013],[27,0.011],
[175,3.3],[185,3.6],[195,3.5],[205,3.2],[215,3.6],[225,3.4],[235,3.2],[280,2.0],[295,2.2],[315,2.0],[335,2.2],[350,2.0],
[41,0.25],[43,0.4],[45,0.55],[47,0.22],[49,0.3],[51,0.5],[53,0.22],[55,0.6],[57,0.25],[59,0.35],[61,0.25],[63,0.35],[65,0.3],[67,0.45],[69,0.28],[71,0.55],[73,0.35],[75,0.65],[77,0.32],[79,0.5],[81,0.28],[83,0.45],[85,0.35],[87,0.5],[89,0.3],[91,0.45],[93,0.55],[95,0.4],[97,0.5],
[43,0.09],[45,0.12],[47,0.16],[49,0.11],[51,0.15],[53,0.1],[55,0.18],[57,0.13],[59,0.11],[61,0.16],[63,0.1],[65,0.13],[67,0.2],[69,0.14],[71,0.12],[73,0.18],[75,0.09],[77,0.14],[79,0.12],[81,0.1],[83,0.13],[87,0.09],[91,0.14],[95,0.11],[99,0.13],
[33,0.15],[36,0.1],[38,0.09],[40,0.14],[32,0.11],[34,0.16],[30,0.08],[28,0.065],[32,0.045],[36,0.045],[40,0.055],[44,0.035],[48,0.03],
[50,0.6],[53,0.8],[56,0.7],[59,1.1],[62,0.75],[65,0.9],[68,1.0],[71,0.85],[74,1.2],[77,1.0],[80,1.2],[83,1.0],[86,1.4],[89,1.1],[92,1.25],[95,1.5],[98,1.2],
[57,2.6],[61,2.0],[63,2.9],[67,2.5],[69,3.5],[73,3.8],[77,3.3],[79,2.6],[83,3.7],[86,4.0],[91,3.4],[97,3.8],[103,4.4],[107,3.2],[112,2.6],[118,3.4],[126,3.1]
];

// ---------------- DRAWING ----------------
const svg = d3.select("#fig");
const FONT = "'Liberation Sans', Arial, Helvetica, sans-serif";
const seriesColors = ["#b3b3ff", "#3d3dff", "#000000"];

function drawPSD(cfg) {
  const x = d3.scaleLog().domain([0.1, 1000]).range([cfg.x0, cfg.x1]);
  const y = d3.scaleLinear().domain([0, cfg.ymax]).range([cfg.y1, cfg.y0]);
  const g = svg.append("g");
  const minorTicks = x.ticks().filter(v => !xTickLabelsTop.some(m => Math.abs(m - v) < 1e-9));
  g.selectAll(".mg").data(minorTicks).join("line")
    .attr("x1", d => x(d)).attr("x2", d => x(d)).attr("y1", cfg.y0).attr("y2", cfg.y1)
    .attr("stroke", "#b8b8b8").attr("stroke-width", 1).attr("stroke-dasharray", "1,2.5");
  g.selectAll(".Mx").data(xTickLabelsTop).join("line")
    .attr("x1", d => x(d)).attr("x2", d => x(d)).attr("y1", cfg.y0).attr("y2", cfg.y1)
    .attr("stroke", "#dcdcdc").attr("stroke-width", 1);
  g.selectAll(".My").data(cfg.yticks.slice(1, -1)).join("line")
    .attr("x1", cfg.x0).attr("x2", cfg.x1).attr("y1", d => y(d)).attr("y2", d => y(d))
    .attr("stroke", "#dcdcdc").attr("stroke-width", 1);
  const clipId = "clip" + cfg.x0 + "_" + cfg.y0;
  svg.append("clipPath").attr("id", clipId).append("rect")
    .attr("x", cfg.x0).attr("y", cfg.y0 - 5).attr("width", cfg.x1 - cfg.x0).attr("height", cfg.y1 - cfg.y0 + 5);
  const line = d3.line().x(d => x(d[0])).y(d => y(d[1])).curve(d3.curveCatmullRom.alpha(0.5));
  cfg.series.forEach((s, i) => {
    g.append("path").datum(classes.map((c, k) => [c, s[k]]))
      .attr("d", line).attr("fill", "none").attr("stroke", seriesColors[i]).attr("clip-path", `url(#${clipId})`)
      .attr("stroke-width", 3).attr("stroke-linejoin", "round");
  });
  g.append("rect").attr("x", cfg.x0).attr("y", cfg.y0).attr("width", cfg.x1 - cfg.x0).attr("height", cfg.y1 - cfg.y0)
    .attr("fill", "none").attr("stroke", "#262626").attr("stroke-width", 1.2);
  g.selectAll(".ty").data(cfg.yticks).join("line")
    .attr("x1", cfg.x0).attr("x2", cfg.x0 + 3).attr("y1", d => y(d)).attr("y2", d => y(d)).attr("stroke", "#262626");
  g.selectAll(".ty2").data(cfg.yticks).join("line")
    .attr("x1", cfg.x1).attr("x2", cfg.x1 - 3).attr("y1", d => y(d)).attr("y2", d => y(d)).attr("stroke", "#262626");
  g.selectAll(".tx").data(x.ticks()).join("line")
    .attr("x1", d => x(d)).attr("x2", d => x(d)).attr("y1", cfg.y1).attr("y2", d => cfg.y1 - (xTickLabelsTop.includes(d) ? 3 : 2)).attr("stroke", "#262626");
  g.selectAll(".yl").data(cfg.yticks).join("text")
    .attr("x", cfg.x0 - 7).attr("y", d => y(d)).attr("dy", "0.36em")
    .attr("text-anchor", "end").attr("font-family", FONT).attr("font-size", 17).attr("fill", "#262626")
    .text(d => d);
  xTickLabelsTop.forEach(v => {
    const t = g.append("text").attr("x", x(v) - 3).attr("y", cfg.y1 + 26)
      .attr("text-anchor", "middle").attr("font-family", FONT).attr("font-size", 17).attr("fill", "#262626");
    t.append("tspan").text("10");
    t.append("tspan").attr("dy", -8).attr("font-size", 12).text(Math.round(Math.log10(v)));
  });
  g.append("text").attr("x", cfg.titleX).attr("y", cfg.titleY).attr("font-family", FONT)
    .attr("font-size", 26).attr("fill", "#000").text(cfg.title);
  if (cfg.ylabelX) {
    g.append("text").attr("transform", `translate(${cfg.ylabelX},${(cfg.y0 + cfg.y1) / 2}) rotate(-90)`)
      .attr("text-anchor", "middle").attr("font-family", FONT).attr("font-size", 19).attr("fill", "#262626")
      .text("Volume (%)");
  }
  if (cfg.xlabelY) {
    const t = g.append("text").attr("x", (cfg.x0 + cfg.x1) / 2 - 2).attr("y", cfg.xlabelY)
      .attr("text-anchor", "middle").attr("font-family", FONT).attr("font-size", 19).attr("fill", "#262626");
    t.append("tspan").text("Class (");
    t.append("tspan").attr("font-family", "'DejaVu Serif', serif").attr("font-style", "italic").text("\u03bc");
    t.append("tspan").text("m)");
  }
  cfg.legend.forEach((lab, i) => {
    const ly = cfg.legY[i];
    g.append("line").attr("x1", cfg.legX1).attr("x2", cfg.legX2).attr("y1", ly).attr("y2", ly)
      .attr("stroke", seriesColors[i]).attr("stroke-width", 3.5);
    g.append("text").attr("x", cfg.legTx).attr("y", ly).attr("dy", "0.35em")
      .attr("font-family", FONT).attr("font-size", 18).attr("fill", "#000").text(lab);
  });
}

drawPSD({title: psdTitles[0], series: [aStart, aMid, aEnd], legend: legendA, x0: 71, x1: 393, y0: 39, y1: 211, ymax: 8, yticks: yTicksTop,
  titleX: 92, titleY: 27, ylabelX: 42, legX1: 143, legX2: 210, legTx: 219, legY: [268, 293, 317]});
drawPSD({title: psdTitles[1], series: [bStart, bMid, bEnd], legend: legendB, x0: 496, x1: 819, y0: 39, y1: 211, ymax: 8, yticks: yTicksTop,
  titleX: 517, titleY: 27, legX1: 567, legX2: 635, legTx: 646, legY: [268, 293, 317]});
drawPSD({title: psdTitles[2], series: [cStart, cMid, cEnd], legend: legendC, x0: 71, x1: 393, y0: 387, y1: 559, ymax: 10, yticks: yTicksBottom,
  titleX: 92, titleY: 378, ylabelX: 34, xlabelY: 611, legX1: 143, legX2: 210, legTx: 221, legY: [642, 666, 689]});
drawPSD({title: psdTitles[3], series: [dStart, dMid, dEnd], legend: legendD, x0: 496, x1: 819, y0: 387, y1: 559, ymax: 10, yticks: yTicksBottom,
  titleX: 517, titleY: 378, xlabelY: 611, legX1: 570, legX2: 638, legTx: 649, legY: [642, 666, 689]});

function drawScatter(cfg) {
  const x = d3.scaleLog().domain([10, 1000]).range([cfg.px0, cfg.px1]);
  const y = d3.scaleLog().domain([0.01, 100]).range([cfg.py1, cfg.py0]);
  const g = svg.append("g");
  g.append("rect").attr("x", cfg.fx + 0.5).attr("y", cfg.fy + 0.5).attr("width", cfg.fw).attr("height", cfg.fh)
    .attr("fill", "#fff").attr("stroke", "#404040").attr("stroke-width", 1.2);
  g.append("rect").attr("x", cfg.px0).attr("y", cfg.py0).attr("width", cfg.px1 - cfg.px0).attr("height", cfg.py1 - cfg.py0)
    .attr("fill", "none").attr("stroke", "#c0c0c0").attr("stroke-width", 1);
  const ln = d3.line().x(d => x(d[0])).y(d => y(d[1]));
  [[lineUpper, "#c00000"], [lineMid, "#008a00"], [lineLower, "#7030a0"]].forEach(([data, col]) => {
    g.append("path").datum(data).attr("d", ln).attr("fill", "none").attr("stroke", col)
      .attr("stroke-width", 2.6).attr("stroke-linecap", "round");
  });
  g.selectAll(".pt").data(cfg.points).join("path")
    .attr("transform", d => `translate(${x(d[0])},${y(d[1])})`)
    .attr("d", "M-3.8,0H3.8M0,-3.8V3.8").attr("stroke", "#5b9bd5").attr("stroke-width", 1.4).attr("fill", "none");
  const axY = g.append("g").attr("transform", `translate(${cfg.px0},0)`)
    .call(d3.axisLeft(y).tickValues(scatterYTicks).tickSize(5).tickFormat(d => String(d)));
  const axYm = g.append("g").attr("transform", `translate(${cfg.px0},0)`)
    .call(d3.axisLeft(y).tickValues(y.ticks().filter(v => !scatterYTicks.some(m => Math.abs(m - v) / m < 1e-6))).tickSize(3).tickFormat(""));
  const axX = g.append("g").attr("transform", `translate(0,${cfg.py1})`)
    .call(d3.axisBottom(x).tickValues(scatterXTicks).tickSize(5).tickFormat(d => String(d)));
  const axXm = g.append("g").attr("transform", `translate(0,${cfg.py1})`)
    .call(d3.axisBottom(x).tickValues(x.ticks().filter(v => !scatterXTicks.includes(v))).tickSize(3).tickFormat(""));
  [axY, axYm, axX, axXm].forEach(a => {
    a.selectAll("path").attr("stroke", "#333").attr("stroke-width", 1.2);
    a.selectAll("line").attr("stroke", "#333");
    a.selectAll("text").attr("font-family", FONT).attr("font-size", 11.5).attr("fill", "#555");
  });
  axY.selectAll("text").attr("x", -7);
  axX.selectAll("text").attr("y", 9);
  g.append("text").attr("x", (cfg.px0 + cfg.px1) / 2).attr("y", cfg.py1 + 29).attr("text-anchor", "middle")
    .attr("font-family", FONT).attr("font-size", 12).attr("fill", "#555").text("Floc Size (microns)");
  g.append("text").attr("transform", `translate(${cfg.ylx},${(cfg.py0 + cfg.py1) / 2}) rotate(-90)`)
    .attr("text-anchor", "middle").attr("font-family", FONT).attr("font-size", 12).attr("fill", "#555").text("Ws (mm/s)");
  g.append("text").attr("x", cfg.lx).attr("y", cfg.ly).attr("font-family", "'Open Sans', 'Liberation Sans', sans-serif")
    .attr("font-weight", "bold").attr("font-size", 19).attr("fill", "#000").text(cfg.label);
}

drawScatter({points: scatterA, label: scatterLabels[0], fx: 4, fy: 710, fw: 414, fh: 239, px0: 44, px1: 400, py0: 724, py1: 917, ylx: 17, lx: 82, ly: 764});
drawScatter({points: scatterB, label: scatterLabels[1], fx: 447, fy: 710, fw: 398, fh: 238, px0: 486, px1: 833, py0: 723, py1: 914, ylx: 461, lx: 530, ly: 764});
drawScatter({points: scatterC, label: scatterLabels[2], fx: 4, fy: 972, fw: 414, fh: 245, px0: 44, px1: 399, py0: 987, py1: 1181, ylx: 17, lx: 86, ly: 1030});
drawScatter({points: scatterD, label: scatterLabels[3], fx: 447, fy: 972, fw: 398, fh: 245, px0: 486, px1: 833, py0: 986, py1: 1178, ylx: 461, lx: 530, ly: 1030});
</script>
</body></html>
